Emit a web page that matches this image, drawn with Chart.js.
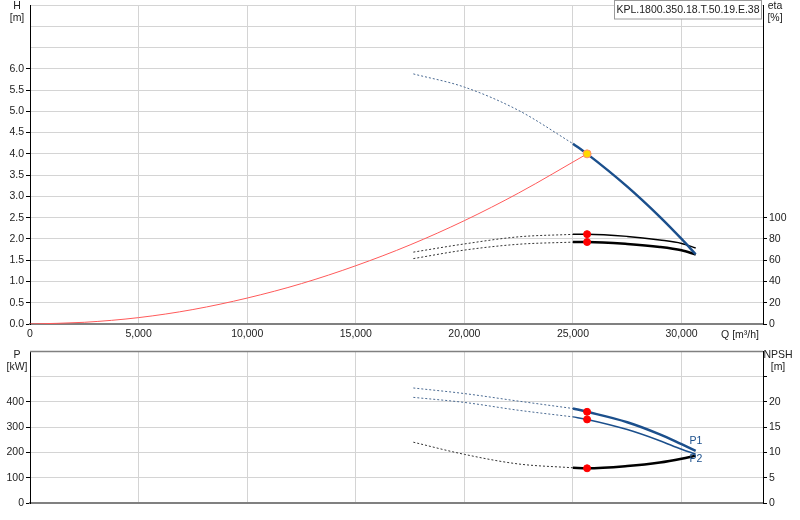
<!DOCTYPE html>
<html>
<head>
<meta charset="utf-8">
<script src="https://cdn.jsdelivr.net/npm/chart.js@4.4.0/dist/chart.umd.min.js"></script>
<style>
  html, body { margin: 0; padding: 0; background: #fff; }
  #wrap { position: relative; width: 800px; height: 520px; }
  canvas { position: absolute; left: 0; }
  #top { top: 0; }
  #bottom { top: 345px; }
</style>
</head>
<body>
<div id="wrap">
  <canvas id="top" width="800" height="345"></canvas>
  <canvas id="bottom" width="800" height="175"></canvas>
</div>
<script>
// ---------- data ----------
const MODEL_LABEL = 'KPL.1800.350.18.T.50.19.E.38';
const Q_TICKS = [0, 5000, 10000, 15000, 20000, 25000, 30000];
const Q_CURVE = [17650, 20000, 22500, 25000, 25650, 27500, 29000, 30000, 30650];
const H_PUMP  = [5.88, 5.57, 5.02, 4.24, 4.0, 3.23, 2.52, 2.0, 1.64];
const ETA_1   = [67.6, 75.3, 82.0, 84.3, 84.5, 82.4, 79.0, 75.8, 71.5];
const ETA_2   = [61.5, 69.5, 75.0, 77.0, 77.1, 75.3, 72.5, 69.3, 65.4];
const P_1     = [454, 432, 402, 373, 360, 319, 271, 232, 206];
const P_2     = [417, 397, 366, 340, 330, 290, 246, 212, 193];
const NPSH    = [12.0, 9.6, 7.7, 6.95, 6.85, 7.3, 8.0, 8.75, 9.35];
const Q_SYS   = [0, 2500, 5000, 7500, 10000, 12500, 15000, 17500, 20000, 22500, 25650];
const H_SYS   = [0, 0.04, 0.15, 0.34, 0.61, 0.95, 1.37, 1.86, 2.43, 3.08, 4.0];
const DUTY_INDEX = 4;      // Q = 25650
const SPLIT_Q = 25000;     // dashed below, solid above
const H_TICK_MAX_LABEL = 6.0;
const ETA_TICK_MAX_LABEL = 100;
const P_TICK_MAX_LABEL = 400;
const NPSH_TICK_MAX_LABEL = 20;

// ---------- helpers ----------
const pts = (xs, ys) => xs.map((x, i) => ({ x, y: ys[i] }));
const dashedPart = (ys) => pts(Q_CURVE, ys).filter(p => p.x <= SPLIT_Q);
const solidPart  = (ys) => pts(Q_CURVE, ys).filter(p => p.x >= SPLIT_Q);
const dutyPt = (ys) => [{ x: Q_CURVE[DUTY_INDEX], y: ys[DUTY_INDEX] }];

const FONT = "'Liberation Sans', Arial, sans-serif";
Chart.defaults.font.family = FONT;
Chart.defaults.font.size = 10.5;
Chart.defaults.color = '#222';

const BLUE = '#1b4f8c';
const GRID = '#d4d4d4';

const line = (data, color, width, dash, axis) => ({
  type: 'line', data, borderColor: color, borderWidth: width, borderDash: dash || [],
  pointRadius: 0, fill: false, cubicInterpolationMode: 'monotone', yAxisID: axis
});
const dot = (data, axis, fill, border, r) => ({
  type: 'scatter', data, backgroundColor: fill, borderColor: border, borderWidth: 1,
  pointRadius: r, yAxisID: axis
});

function zeroPad(s) { s.paddingTop = 0; s.paddingBottom = 0; s.paddingLeft = 0; s.paddingRight = 0; }

function xScale(height, showLabels) {
  return {
    type: 'linear', min: 0, max: 33750,
    afterFit(s) { s.height = height; zeroPad(s); },
    afterBuildTicks(s) { s.ticks = Q_TICKS.map(v => ({ value: v })); },
    ticks: {
      display: showLabels, padding: 4, maxRotation: 0, autoSkip: false,
      callback: v => v.toLocaleString('en-US')
    },
    grid: { color: GRID, drawTicks: false },
    border: { color: '#808080', width: 2 }
  };
}
function yScale(pos, width, min, max, step, maxLabel, fmt, drawGrid, extraTickMax) {
  const tickLimit = extraTickMax !== undefined ? extraTickMax : maxLabel;
  return {
    type: 'linear', position: pos, min, max,
    afterFit(s) { s.width = width; zeroPad(s); },
    ticks: {
      stepSize: step, padding: 2, autoSkip: false,
      callback: v => (v <= maxLabel + 1e-9 ? fmt(v) : '')
    },
    grid: {
      color: GRID, drawOnChartArea: drawGrid, tickLength: 4,
      tickColor: c => (c.tick && c.tick.value <= tickLimit + 1e-9 ? '#000' : 'rgba(0,0,0,0)')
    },
    border: { color: '#000', width: 1 }
  };
}

function textPlugin(items, extra) {
  return {
    id: 'texts',
    afterDraw(chart) {
      const ctx = chart.ctx;
      ctx.save();
      if (extra) extra(ctx, chart);
      ctx.font = '10.5px ' + FONT;
      ctx.textAlign = 'center';
      ctx.textBaseline = 'middle';
      items.forEach(t => { ctx.fillStyle = t.color || '#222'; ctx.fillText(t.text, t.x, t.y); });
      ctx.restore();
    }
  };
}

// ---------- top chart: H and eta ----------
new Chart(document.getElementById('top'), {
  data: {
    datasets: [
      dot(dutyPt(H_PUMP), 'y', '#ffd800', '#ff8a70', 4),
      dot(dutyPt(ETA_1), 'y2', '#ff0000', '#ff0000', 3.5),
      dot(dutyPt(ETA_2), 'y2', '#ff0000', '#ff0000', 3.5),
      line(solidPart(H_PUMP), BLUE, 2.5, [], 'y'),
      line(dashedPart(H_PUMP), '#4a6a92', 1, [2, 2], 'y'),
      line(pts(Q_SYS, H_SYS), '#ff5a5a', 1, [], 'y'),
      line(dashedPart(ETA_1), '#333', 1, [2, 2], 'y2'),
      line(solidPart(ETA_1), '#000', 1.5, [], 'y2'),
      line(dashedPart(ETA_2), '#333', 1, [2, 2], 'y2'),
      line(solidPart(ETA_2), '#000', 2.5, [], 'y2')
    ]
  },
  options: {
    responsive: false, animation: false, devicePixelRatio: 1,
    layout: { padding: 0 },
    plugins: { legend: { display: false }, tooltip: { enabled: false } },
    scales: {
      x: xScale(21, true),
      y: yScale('left', 30, 0, 7.5, 0.5, H_TICK_MAX_LABEL, v => v.toFixed(1), true),
      y2: yScale('right', 37, 0, 300, 20, ETA_TICK_MAX_LABEL, v => String(v), false)
    }
  },
  plugins: [textPlugin([
    { text: 'H', x: 17, y: 6 }, { text: '[m]', x: 17, y: 18 },
    { text: 'eta', x: 775, y: 6 }, { text: '[%]', x: 775, y: 18 },
    { text: 'Q [m³/h]', x: 740, y: 335 },
    { text: MODEL_LABEL, x: 688, y: 10 }
  ], (ctx) => {
    ctx.fillStyle = '#fff';
    ctx.fillRect(614, 0, 148, 19);
    ctx.strokeStyle = '#9a9a9a';
    ctx.lineWidth = 1;
    ctx.strokeRect(614.5, 0.5, 147, 18.5);
  })]
});

// ---------- bottom chart: P and NPSH ----------
new Chart(document.getElementById('bottom'), {
  data: {
    datasets: [
      dot(dutyPt(P_1), 'y', '#ff0000', '#ff0000', 3.5),
      dot(dutyPt(P_2), 'y', '#ff0000', '#ff0000', 3.5),
      dot(dutyPt(NPSH), 'y2', '#ff0000', '#ff0000', 3.5),
      line(dashedPart(P_1), '#4a6a92', 1, [2, 2], 'y'),
      line(solidPart(P_1), BLUE, 2.5, [], 'y'),
      line(dashedPart(P_2), '#4a6a92', 1, [2, 2], 'y'),
      line(solidPart(P_2), BLUE, 1.5, [], 'y'),
      line(dashedPart(NPSH), '#333', 1, [2, 2], 'y2'),
      line(solidPart(NPSH), '#000', 2.5, [], 'y2')
    ]
  },
  options: {
    responsive: false, animation: false, devicePixelRatio: 1,
    layout: { padding: { top: 6, left: 0, right: 0, bottom: 0 } },
    plugins: { legend: { display: false }, tooltip: { enabled: false } },
    scales: {
      x: xScale(17, false),
      y: yScale('left', 30, 0, 600, 100, P_TICK_MAX_LABEL, v => String(v), true),
      y2: yScale('right', 37, 0, 30, 5, NPSH_TICK_MAX_LABEL, v => String(v), false, 25)
    }
  },
  plugins: [textPlugin([
    { text: 'P', x: 17, y: 10 }, { text: '[kW]', x: 17, y: 22 },
    { text: 'NPSH', x: 778, y: 10 }, { text: '[m]', x: 778, y: 22 },
    { text: 'P1', x: 696, y: 96, color: BLUE }, { text: 'P2', x: 696, y: 114, color: BLUE }
  ], (ctx, chart) => {
    const a = chart.chartArea;
    ctx.strokeStyle = '#808080';
    ctx.lineWidth = 1.5;
    ctx.beginPath();
    ctx.moveTo(a.left, a.top + 0.5);
    ctx.lineTo(a.right, a.top + 0.5);
    ctx.stroke();
  })]
});
</script>
</body>
</html>
